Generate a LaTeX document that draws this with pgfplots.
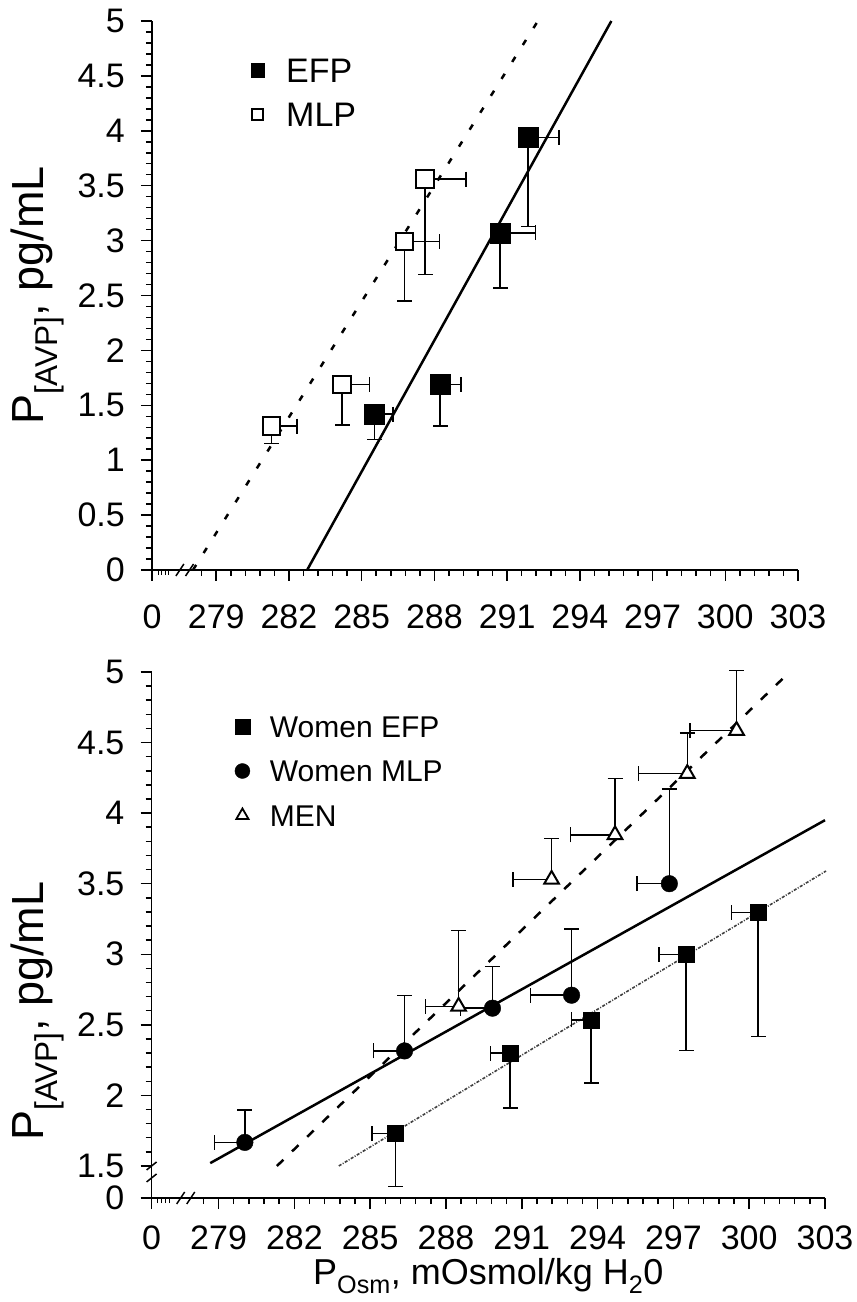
\documentclass[border=0pt]{standalone}
\usepackage{fontspec}
\setmainfont{Liberation Sans}
\usepackage{pgfplots}
\usepackage{pgfplotstable}
\pgfplotsset{compat=1.18}

% top panel: EFP / MLP (x, y, +x error, -y error)
\pgfplotstableread{
x y ex ey
291.87 3.94 1.28 0.81
290.71 3.07 1.47 0.50
285.52 1.42 0.78 0.23
288.24 1.69 0.86 0.38
}\efptop
\pgfplotstableread{
x y ex ey
281.27 1.31 1.07 0.16
284.19 1.69 1.13 0.37
286.76 2.99 1.45 0.54
287.62 3.56 1.68 0.87
}\mlptop

% bottom panel (x, y, -x error, y error)
\pgfplotstableread{
x y ex ey
286.00 1.73 0.93 0.377
290.54 2.30 0.78 0.39
293.74 2.535 0.77 0.448
297.50 3.00 1.06 0.683
300.35 3.297 1.05 0.881
}\womenefp
\pgfplotstableread{
x y ex ey
280.04 1.667 1.20 0.23
286.36 2.315 1.22 0.392
289.84 2.618 1.26 0.297
292.97 2.71 1.62 0.47
296.84 3.50 1.29 0.67
}\womenmlp
\pgfplotstableread{
x y ex ey
288.50 2.63 1.32 0.54
292.18 3.53 1.52 0.29
294.69 3.846 1.77 0.40
297.55 4.28 1.93 0.287
299.50 4.585 1.85 0.425
}\men

\pgfplotsset{
  panel/.style={
    scale only axis,
    axis x line=bottom, axis y line=left,
    axis line style={-, line width=1.5pt},
    tick style={black, line width=1.5pt},
    tick align=outside,
    major tick length=11pt, minor tick length=6pt,
    clip=false,
    xmin=276.35, xmax=303,
    xtick={276.35,279,282,285,288,291,294,297,300,303},
    xticklabels={0,279,282,285,288,291,294,297,300,303},
    minor xtick={278.4,279,...,303.1},
    extra x ticks={276.6,276.75,276.9,277.05},
    extra x tick labels={{},{},{},{}},
    extra x tick style={major tick length=5pt, tick style={line width=1pt}},
    /pgf/number format/assume math mode=true,
    ticklabel style={font=\fontsize{34}{38}\selectfont, inner sep=0pt},
    yticklabel style={xshift=-16pt},
    legend cell align=left,
    error bars/error bar style={line width=1.5pt, black},
    error bars/error mark options={rotate=90, line width=1.5pt, black, mark size=7.5pt},
  },
  mk/.style={legend image code/.code={\draw[##1] plot coordinates {(0pt,0pt)};}},
}

\begin{document}
\begin{tikzpicture}
\path[use as bounding box] (0pt,0pt) rectangle (857pt,1302pt);

% ---------------- top panel ----------------
\begin{axis}[panel,
  at={(152pt,732pt)}, anchor=south west,
  width=646pt, height=549pt,
  ymin=0, ymax=5,
  xticklabel style={yshift=-24pt},
  ytick={0,0.5,...,5},
  yticklabels={0,0.5,1,1.5,2,2.5,3,3.5,4,4.5,5},
  minor ytick={0,0.1,...,5},
  ylabel={P\textsubscript{[AVP]}, pg/mL},
  ylabel style={font=\fontsize{45}{50}\selectfont, at={(axis description cs:-0.136,0.5)}, anchor=south, inner sep=0pt},
  legend style={draw=none, fill=none, at={(axis description cs:0.148,0.936)}, anchor=north west,
    font=\fontsize{34}{40}\selectfont, row sep=20pt, column sep=22pt,
    nodes={inner sep=0pt, text height=24pt, text depth=0pt}},
]
\addplot[black, line width=2.5pt, dash pattern=on 6pt off 14pt, forget plot] coordinates {(278.04,0) (292.27,5)};
\addplot[black, line width=2.5pt, forget plot] coordinates {(282.75,0) (295.3,5)};

\addplot[only marks, mark=square*, mark size=9.8pt, mark options={black}, forget plot,
  error bars/.cd, x dir=plus, x explicit, y dir=minus, y explicit]
  table[x=x, y=y, x error=ex, y error=ey] {\efptop};
\addplot[only marks, mark=square*, mark size=8.7pt, mark options={fill=white, draw=black, line width=2pt}, forget plot,
  error bars/.cd, x dir=plus, x explicit, y dir=minus, y explicit]
  table[x=x, y=y, x error=ex, y error=ey] {\mlptop};

\addlegendimage{only marks, mark=square*, mark size=6.7pt, mark options={black}, mk}
\addlegendentry{EFP}
\addlegendimage{only marks, mark=square*, mark size=5.5pt, mark options={fill=white, draw=black, line width=1.5pt}, mk}
\addlegendentry{MLP}

% axis break on x
\draw[line width=1.5pt] ([xshift=-4pt,yshift=-6pt]axis cs:277.5,0) -- ([xshift=4pt,yshift=6pt]axis cs:277.5,0);
\draw[line width=1.5pt] ([xshift=-4pt,yshift=-6pt]axis cs:277.9,0) -- ([xshift=4pt,yshift=6pt]axis cs:277.9,0);
\end{axis}

% ---------------- bottom panel ----------------
\begin{axis}[panel,
  at={(151.6pt,104pt)}, anchor=south west,
  width=673.4pt, height=526pt,
  ymin=1.273, ymax=5,
  xticklabel style={yshift=-17pt},
  ytick={1.273,1.5,2,2.5,3,3.5,4,4.5,5},
  yticklabels={0,1.5,2,2.5,3,3.5,4,4.5,5},
  minor ytick={1.6,1.7,...,4.95},
  ylabel={P\textsubscript{[AVP]}, pg/mL},
  ylabel style={font=\fontsize{45}{50}\selectfont, at={(axis description cs:-0.130,0.355)}, anchor=south, inner sep=0pt},
  xlabel={P\textsubscript{Osm}, mOsmol/kg H\textsubscript{2}0},
  xlabel style={font=\fontsize{36}{40}\selectfont, at={(axis description cs:0.5,-0.114)}, anchor=north, inner sep=0pt},
  legend style={draw=none, fill=none, at={(axis description cs:0.119,0.921)}, anchor=north west,
    font=\fontsize{30}{36}\selectfont, row sep=23pt, column sep=20pt,
    nodes={inner sep=0pt, text height=21.5pt, text depth=0pt}},
]
\addplot[black, line width=2.5pt, dash pattern=on 9pt off 12pt, forget plot] coordinates {(281.31,1.5) (301.6,5.0)};
\addplot[black, line width=2.5pt, forget plot] coordinates {(278.67,1.52) (303,3.95)};
\addplot[black!75, line width=1.6pt, dash pattern=on 3pt off 1.5pt on 1pt off 1.5pt, forget plot] coordinates {(283.76,1.5) (303.04,3.59)};

\addplot[only marks, mark=square*, mark size=8pt, mark options={black}, forget plot,
  error bars/.cd, x dir=minus, x explicit, y dir=minus, y explicit]
  table[x=x, y=y, x error=ex, y error=ey] {\womenefp};
\addplot[only marks, mark=*, mark size=8.3pt, mark options={black}, forget plot,
  error bars/.cd, x dir=minus, x explicit, y dir=plus, y explicit]
  table[x=x, y=y, x error=ex, y error=ey] {\womenmlp};
\addplot[only marks, mark=triangle*, mark size=8.5pt, mark options={fill=white, draw=black, line width=2pt}, forget plot,
  error bars/.cd, x dir=minus, x explicit, y dir=plus, y explicit]
  table[x=x, y=y, x error=ex, y error=ey] {\men};

\addlegendimage{only marks, mark=square*, mark size=7.5pt, mark options={black}, mk}
\addlegendentry{Women EFP}
\addlegendimage{only marks, mark=*, mark size=7.5pt, mark options={black}, mk}
\addlegendentry{Women MLP}
\addlegendimage{only marks, mark=triangle*, mark size=7pt, mark options={fill=white, draw=black, line width=1.8pt}, mk}
\addlegendentry{MEN}

% axis breaks
\draw[line width=1.5pt] ([xshift=-4pt,yshift=-6pt]axis cs:277.5,1.273) -- ([xshift=4pt,yshift=6pt]axis cs:277.5,1.273);
\draw[line width=1.5pt] ([xshift=-4pt,yshift=-6pt]axis cs:277.9,1.273) -- ([xshift=4pt,yshift=6pt]axis cs:277.9,1.273);
\draw[line width=1.5pt] ([xshift=-5pt,yshift=-4pt]axis cs:276.35,1.5) -- ([xshift=5pt,yshift=4pt]axis cs:276.35,1.5);
\draw[line width=1.5pt] ([xshift=-5pt,yshift=-4pt]axis cs:276.35,1.415) -- ([xshift=5pt,yshift=4pt]axis cs:276.35,1.415);
\end{axis}
\end{tikzpicture}
\end{document}
